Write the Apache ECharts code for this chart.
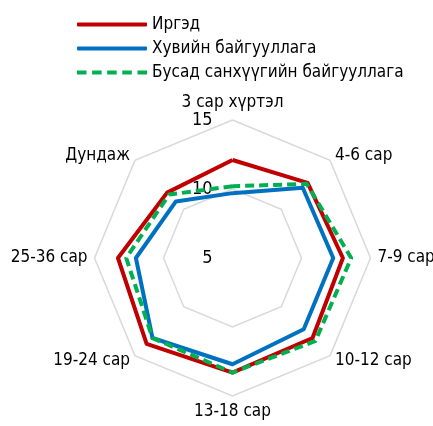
<!DOCTYPE html>
<html>
<head>
<meta charset="utf-8">
<script src="https://cdn.jsdelivr.net/npm/echarts@6/dist/echarts.min.js"></script>
<style>
  html, body { margin: 0; padding: 0; background: #fff; }
  #chart { width: 433px; height: 426px; }
</style>
</head>
<body>
<div id="chart"></div>
<script>
var categories = ['3 сар хүртэл', '4-6 сар', '7-9 сар', '10-12 сар', '13-18 сар', '19-24 сар', '25-36 сар', 'Дундаж'];
var seriesNames = ['Иргэд', 'Хувийн байгууллага', 'Бусад санхүүгийн байгууллага'];
var citizens = [12.1, 12.7, 13.0, 13.2, 13.3, 13.8, 13.3, 11.7];
var privateOrgs = [9.7, 12.2, 12.3, 12.3, 12.7, 13.2, 12.0, 10.8];
var otherFinance = [10.2, 12.6, 13.6, 13.5, 13.3, 13.2, 12.7, 11.5];
var axisMin = 5;
var axisMax = 15;

var font = "'DejaVu Sans Condensed', sans-serif";
var fontSize = 17;
var colors = ['#c00000', '#0070c0', '#00b050'];

// echarts lays indicators out counter-clockwise, the reference goes clockwise
function clockwise(arr) {
    return [arr[0]].concat(arr.slice(1).reverse());
}

var indicators = clockwise(categories).map(function (name, i) {
    var ind = { name: name, min: axisMin, max: axisMax };
    if (i === 0) {
        ind.axisLabel = { show: true, margin: 20, color: '#000', fontSize: 18, fontFamily: font };
    }
    return ind;
});

var dashIcon = 'path://M0,0h9.5v4h-9.5z M15.1,0h9.5v4h-9.5z M30.2,0h9.5v4h-9.5z M45.3,0h9.5v4h-9.5z M60.5,0h9.5v4h-9.5z';

var option = {
    backgroundColor: '#fff',
    animation: false,
    legend: {
        orient: 'vertical',
        left: 72,
        top: 10,
        itemWidth: 70,
        itemHeight: 4,
        itemGap: 5,
        textStyle: { fontFamily: font, fontSize: fontSize, color: '#000', lineHeight: 19 },
        data: [
            { name: seriesNames[0], icon: 'roundRect' },
            { name: seriesNames[1], icon: 'roundRect' },
            { name: seriesNames[2], icon: dashIcon }
        ]
    },
    radar: {
        center: [232.5, 258],
        radius: 138,
        shape: 'polygon',
        splitNumber: 2,
        startAngle: 90,
        nameGap: 7,
        axisName: { color: '#000', fontFamily: font, fontSize: fontSize },
        axisLine: { show: false },
        axisTick: { show: false },
        axisLabel: { show: false },
        splitArea: { show: false },
        splitLine: { lineStyle: { color: '#d9d9d9', width: 1.5 } },
        indicator: indicators
    },
    series: [{
        type: 'radar',
        symbol: 'none',
        silent: true,
        data: [
            {
                name: seriesNames[0],
                value: clockwise(citizens),
                itemStyle: { color: colors[0] },
                lineStyle: { color: colors[0], width: 4 }
            },
            {
                name: seriesNames[1],
                value: clockwise(privateOrgs),
                itemStyle: { color: colors[1] },
                lineStyle: { color: colors[1], width: 4 }
            },
            {
                name: seriesNames[2],
                value: clockwise(otherFinance),
                itemStyle: { color: colors[2] },
                lineStyle: { color: colors[2], width: 4, type: [9, 5] }
            }
        ]
    }]
};

var chart = echarts.init(document.getElementById('chart'));
chart.setOption(option);
</script>
</body>
</html>
